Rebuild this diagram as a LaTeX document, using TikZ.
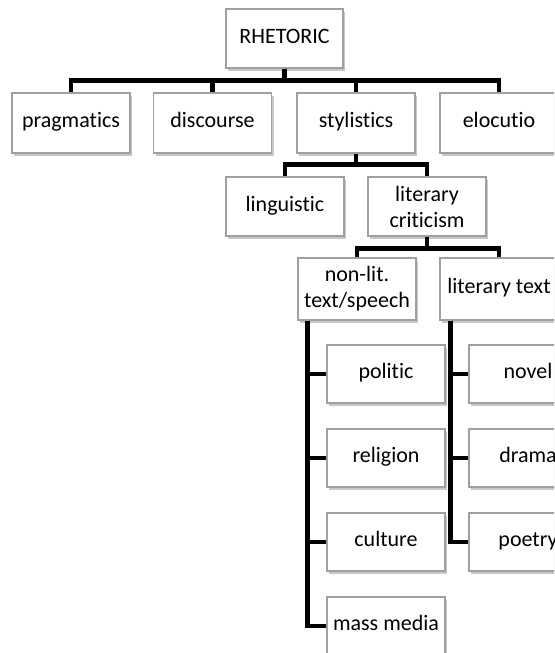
\documentclass[tikz,border=0pt]{standalone}
\usepackage{fontspec}
\setmainfont{Carlito}[Ligatures=NoCommon]
\usetikzlibrary{shadows}
\definecolor{boxgray}{HTML}{A0A0A0}
\begin{document}
\begin{tikzpicture}[x=1pt,y=-1pt,
  box/.style={draw=boxgray, line width=1.3pt, fill=white, minimum width=118pt,
    minimum height=60pt, inner sep=2pt, align=center,
    font=\fontsize{22}{26}\selectfont,
    drop shadow={shadow xshift=2pt, shadow yshift=-3pt, fill=black, opacity=0.22}},
  one/.style={box, text height=14pt, text depth=4.5pt},
  conn/.style={line width=4.5pt, draw=black}]
\fill[white] (0,0) rectangle (554,653);
\clip (0,0) rectangle (554,653);
\useasboundingbox (0,0) rectangle (554,653);
% nodes
\node[one, minimum width=117pt, minimum height=59pt] (rhet) at (284.5,38.5) {RHETORIC};
\node[one] (prag) at (71,123) {pragmatics};
\node[one] (disc) at (212.5,123) {discourse};
\node[one] (styl) at (356,123) {stylistics};
\node[one] (eloc) at (499,123) {elocutio};
\node[one, minimum height=59pt] (ling) at (285,206.5) {linguistic};
\node[box, minimum height=59pt] (litc) at (427,206.5) {literary\\criticism};
\node[box, minimum height=62pt] (nonlit) at (357,289) {non-lit.\\text/speech};
\node[one, minimum height=62pt] (littext) at (499,289) {literary text};
\node[one, minimum height=58pt] (politic) at (386,374) {politic};
\node[one, minimum height=58pt] (religion) at (386,458) {religion};
\node[one, minimum height=58pt] (culture) at (386,542) {culture};
\node[one, minimum height=58pt] (mass) at (386,626) {mass media};
\node[one, minimum height=58pt] (novel) at (528,374) {novel};
\node[one, minimum height=58pt] (drama) at (528,458) {drama};
\node[one, minimum height=58pt] (poetry) at (528,542) {poetry};
% connectors
\foreach \c in {prag,disc,styl,eloc}
  \draw[conn] (rhet.south) -- ++(0,12) -| (\c.north);
\foreach \c in {ling,litc}
  \draw[conn] (styl.south) -- ++(0,11) -| (\c.north);
\foreach \c in {nonlit,littext}
  \draw[conn] (litc.south) -- ++(0,12) -| (\c.north);
\foreach \c in {politic,religion,culture,mass}
  \draw[conn] ([xshift=10pt]nonlit.south west) |- (\c.west);
\foreach \c in {novel,drama,poetry}
  \draw[conn] ([xshift=11pt]littext.south west) |- (\c.west);
\end{tikzpicture}
\end{document}
